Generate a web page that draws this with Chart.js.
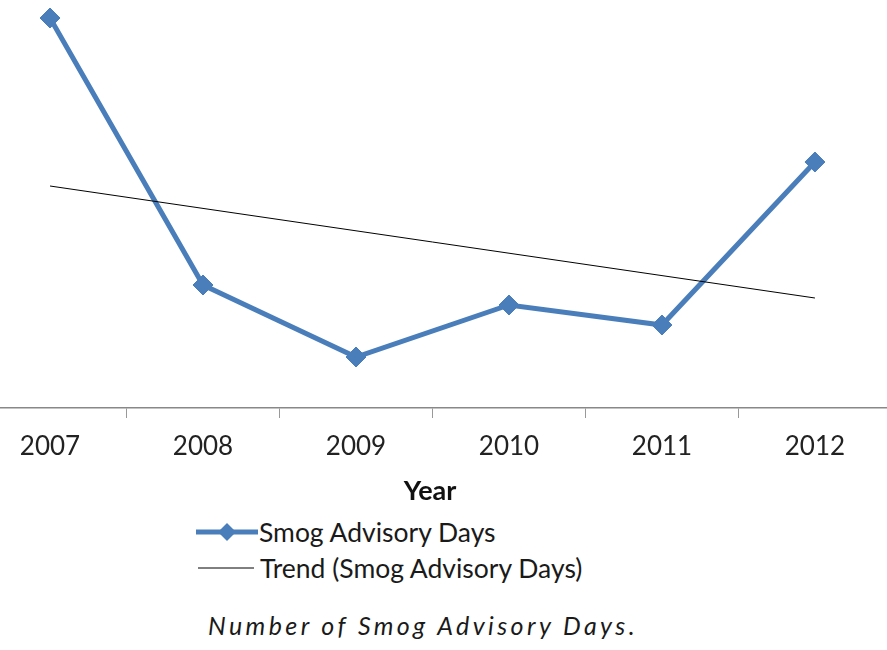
<!DOCTYPE html>
<html lang="en">
<head>
    <meta charset="UTF-8">
    <title>Smog Advisory Days</title>
    <script src="https://cdn.jsdelivr.net/npm/chart.js"></script>
    <style>
        body { margin: 0; background: #fff; font-family: Lato, sans-serif; color: #1a1a1a; }
        .wrap { position: relative; width: 887px; height: 650px; }
        .chart-box { position: absolute; left: 0; top: 0; width: 887px; height: 508px; }
        .legend-row { position: absolute; display: flex; align-items: center; font-size: 26.5px; white-space: nowrap; }
        .caption { position: absolute; left: 208px; top: 610px; font-size: 25px; font-style: italic; letter-spacing: 3.4px; white-space: nowrap; }
    </style>
</head>
<body>
<div class="wrap">
    <div class="chart-box"><canvas id="smogChart"></canvas></div>

    <div class="legend-row" style="left:195px; top:516px;">
        <svg width="64" height="32">
            <line x1="1" y1="16" x2="63" y2="16" stroke="#4a7ebb" stroke-width="5"/>
            <polygon points="32,7 41,16 32,25 23,16" fill="#4a7ebb"/>
        </svg>
        <span>Smog Advisory Days</span>
    </div>
    <div class="legend-row" style="left:198px; top:552px;">
        <svg width="62" height="32">
            <line x1="0" y1="16" x2="56" y2="16" stroke="#000" stroke-width="1"/>
        </svg>
        <span>Trend (Smog Advisory Days)</span>
    </div>

    <div class="caption">Number of Smog Advisory Days.</div>
</div>

<script>
const years = ["2007", "2008", "2009", "2010", "2011", "2012"];
const smogDays = [39, 12.3, 5.1, 10.3, 8.3, 24.6];
// trend line ends
const trendYears = [0, 5];
const trendDays = [22.2, 11.0];

const blue = "#4a7ebb";

new Chart(document.getElementById("smogChart"), {
    type: "line",
    data: {
        datasets: [{
            label: "Smog Advisory Days",
            data: smogDays.map((v, i) => ({ x: i, y: v })),
            borderColor: blue,
            backgroundColor: blue,
            borderWidth: 5,
            pointStyle: "rectRot",
            pointRadius: 10,
            pointBorderWidth: 1,
            pointBackgroundColor: blue,
            pointBorderColor: blue,
            tension: 0,
            clip: false,
            order: 1
        }, {
            label: "Trend (Smog Advisory Days)",
            data: trendYears.map((x, i) => ({ x: x, y: trendDays[i] })),
            borderColor: "#000",
            borderWidth: 1,
            pointRadius: 0,
            clip: false,
            order: 0
        }]
    },
    options: {
        responsive: true,
        maintainAspectRatio: false,
        animation: false,
        layout: { autoPadding: false, padding: { top: 8, left: 0, right: 0, bottom: 0 } },
        plugins: {
            legend: { display: false },
            tooltip: { enabled: false }
        },
        scales: {
            x: {
                type: "linear",
                min: -0.327,
                max: 5.471,
                afterFit: (scale) => {
                    scale.height = 100;
                    scale.paddingLeft = 0;
                    scale.paddingRight = 0;
                },
                ticks: {
                    stepSize: 0.5,
                    includeBounds: false,
                    autoSkip: false,
                    maxRotation: 0,
                    padding: 13,
                    color: "#222",
                    font: { family: "Lato", size: 26 },
                    callback: (v) => Number.isInteger(v) ? years[v] : ""
                },
                grid: {
                    drawOnChartArea: false,
                    tickLength: 10,
                    lineWidth: 1,
                    color: (ctx) => (ctx.tick && !Number.isInteger(ctx.tick.value)) ? "#999" : "rgba(0,0,0,0)"
                },
                border: { display: true, color: "#888", width: 1.5 },
                title: {
                    display: true,
                    text: "Year\u2002\u2002",
                    color: "#111",
                    font: { family: "Lato", size: 27, weight: "bold" },
                    padding: { top: 0, bottom: 1 }
                }
            },
            y: {
                display: false,
                min: 0,
                max: 40
            }
        }
    }
});
</script>
</body>
</html>
